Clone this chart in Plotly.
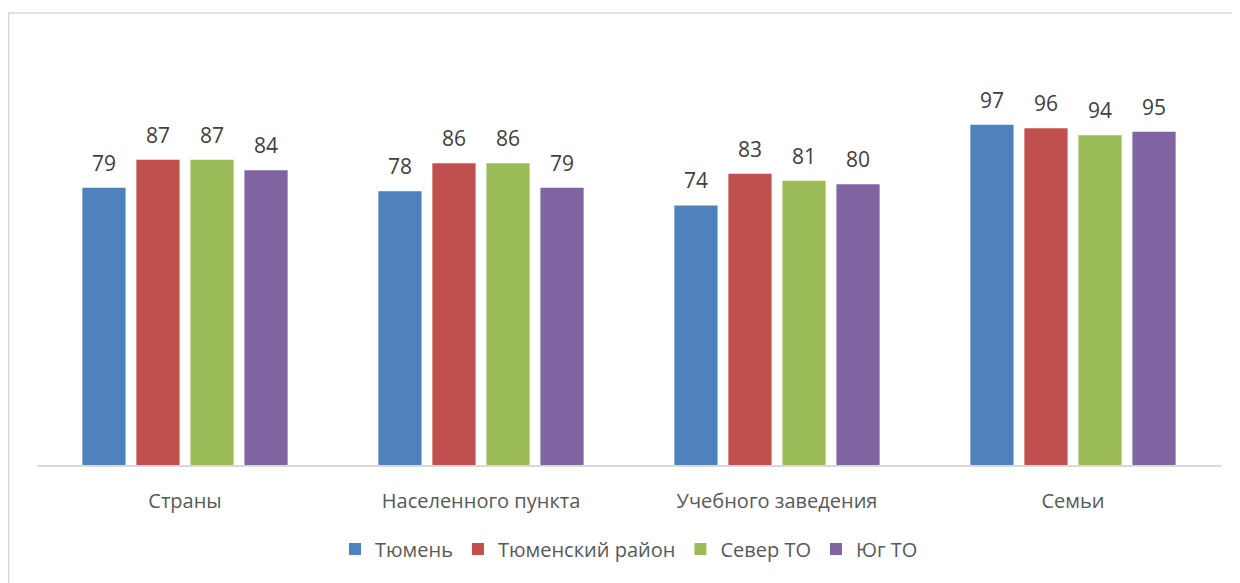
import plotly.graph_objects as go

categories = ["Страны", "Населенного пункта", "Учебного заведения", "Семьи"]
series_names = ["Тюмень", "Тюменский район", "Север ТО", "Юг ТО"]
tyumen = [79, 78, 74, 97]
tyumen_district = [87, 86, 83, 96]
north_to = [87, 86, 81, 94]
south_to = [84, 79, 80, 95]
colors = ["#4F81BD", "#C0504D", "#9BBB59", "#8064A2"]

# page body has an 8px margin, so the figure is sized/positioned to compensate
W, H = 1232, 575
L, R, T, B = 29, 19, 36, 118
plot_w = W - L - R
plot_h = H - T - B
BARGAP = 0.27
GROUPGAP = 0.20
FONT = "Open Sans"

all_series = [tyumen, tyumen_district, north_to, south_to]
n = len(all_series)

fig = go.Figure()
for name, vals, col in zip(series_names, all_series, colors):
    fig.add_trace(go.Bar(
        x=categories, y=vals, name=name,
        marker=dict(color=col, line=dict(width=0)),
        hoverinfo="x+y+name",
    ))

# data labels above each bar, positioned through the category axis
slot = (1 - BARGAP) / n
for j, vals in enumerate(all_series):
    for i, v in enumerate(vals):
        fig.add_annotation(
            x=i + (j - (n - 1) / 2) * slot, y=v, xref="x", yref="y",
            text=str(v), showarrow=False, yanchor="bottom", yshift=9,
            font=dict(size=21, color="#404040", family=FONT),
        )

# outer chart border
fig.add_shape(type="rect", xref="paper", yref="paper",
              x0=(0.75 - L) / plot_w, x1=(W + 20 - L) / plot_w,
              y0=(H - B - 5) / plot_h, y1=-(H + 20 - (H - B)) / plot_h,
              line=dict(color="#D9D9D9", width=1.5), fillcolor="rgba(0,0,0,0)", layer="below")

fig.update_layout(
    width=W, height=H,
    margin=dict(l=L, r=R, t=T, b=B, pad=0, autoexpand=False),
    paper_bgcolor="white", plot_bgcolor="white",
    barmode="group", bargap=BARGAP, bargroupgap=GROUPGAP,
    font=dict(family=FONT, color="#595959", size=18),
    showlegend=True,
    legend=dict(orientation="h", x=0.5, xanchor="center", y=(H - B - 541) / plot_h, yanchor="middle",
                font=dict(size=20, color="#595959", family=FONT), itemwidth=30, traceorder="normal"),
)
fig.update_xaxes(showline=True, linecolor="#D9D9D9", linewidth=1.5, ticks="outside", ticklen=17,
                 tickcolor="rgba(0,0,0,0)", tickfont=dict(size=20, color="#595959", family=FONT),
                 showgrid=False)
fig.update_yaxes(range=[0, 120], visible=False, showgrid=False, zeroline=False)

fig.write_html("out.html")
